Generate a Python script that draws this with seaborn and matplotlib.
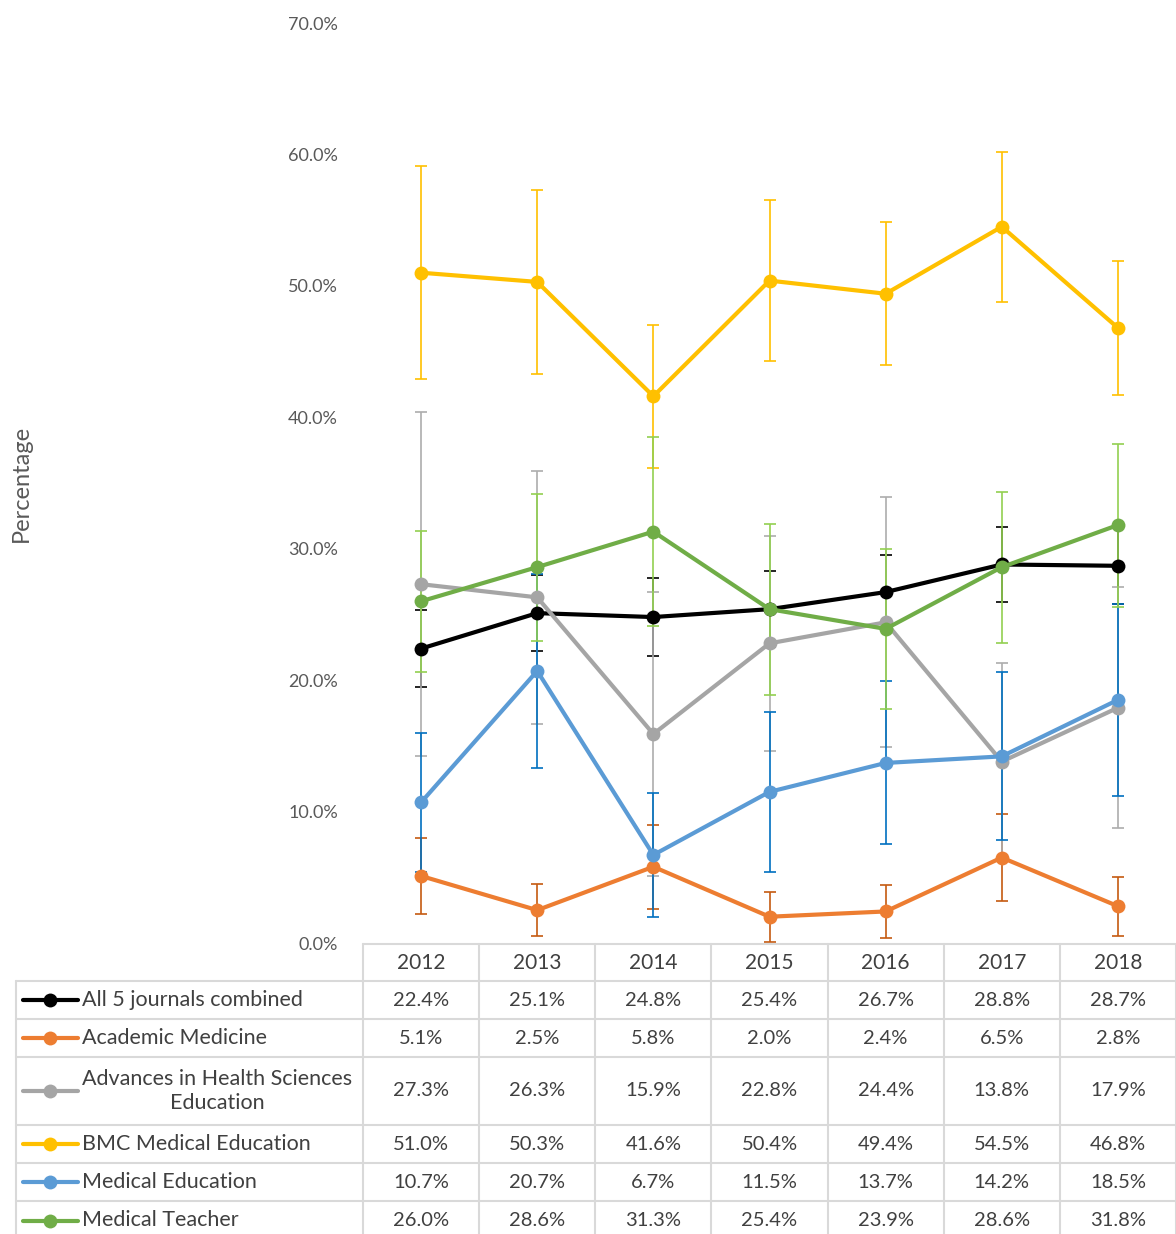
import numpy as np
import pandas as pd
import seaborn as sns
import matplotlib.pyplot as plt
from matplotlib.lines import Line2D
from matplotlib.transforms import blended_transform_factory

# Données (en %)
years = ['2012', '2013', '2014', '2015', '2016', '2017', '2018']
journals = ['All 5 journals combined', 'Academic Medicine',
            'Advances in Health Sciences Education', 'BMC Medical Education',
            'Medical Education', 'Medical Teacher']

all5 = [22.4, 25.1, 24.8, 25.4, 26.7, 28.8, 28.7]
acad_med = [5.1, 2.5, 5.8, 2.0, 2.4, 6.5, 2.8]
ahse = [27.3, 26.3, 15.9, 22.8, 24.4, 13.8, 17.9]
bmc = [51.0, 50.3, 41.6, 50.4, 49.4, 54.5, 46.8]
med_ed = [10.7, 20.7, 6.7, 11.5, 13.7, 14.2, 18.5]
med_teacher = [26.0, 28.6, 31.3, 25.4, 23.9, 28.6, 31.8]

# demi-largeur des barres d'erreur (estimées)
all5_err = [2.9, 2.9, 2.95, 2.9, 2.8, 2.85, 2.9]
acad_med_err = [2.9, 2.0, 3.2, 1.9, 2.05, 3.3, 2.25]
ahse_err = [13.1, 9.6, 10.8, 8.2, 9.5, 7.5, 9.15]
bmc_err = [8.1, 7.0, 5.45, 6.1, 5.45, 5.7, 5.1]
med_ed_err = [5.3, 7.4, 4.75, 6.1, 6.2, 6.4, 7.3]
med_teacher_err = [5.35, 5.6, 7.2, 6.5, 6.1, 5.75, 6.2]

values = [all5, acad_med, ahse, bmc, med_ed, med_teacher]
errors = [all5_err, acad_med_err, ahse_err, bmc_err, med_ed_err, med_teacher_err]

line_colors = ['#000000', '#ED7D31', '#A5A5A5', '#FFC000', '#5B9BD5', '#70AD47']
err_colors = ['#000000', '#C55A11', '#ADADAD', '#FFC000', '#0070C0', '#92D050']

rows = []
for j, name in enumerate(journals):
    for i, y in enumerate(years):
        rows.append({'pos': i, 'year': y, 'journal': name, 'value': values[j][i]})
df = pd.DataFrame(rows)

sns.set_style('white')
plt.rcParams['font.family'] = ['Lato', 'DejaVu Sans']

W, H = 1176, 1234
fig = plt.figure(figsize=(W / 100, H / 100), dpi=100)
ax = fig.add_axes([363 / W, 1 - 943 / H, (1176 - 363) / W, (943 - 23) / H])

# barres d'erreur
for j in range(len(journals)):
    ax.errorbar(range(len(years)), values[j], yerr=errors[j], fmt='none',
                ecolor=err_colors[j], elinewidth=1.2, capsize=4, capthick=1.2, zorder=1)

sns.lineplot(data=df, x='pos', y='value', hue='journal', hue_order=journals,
             palette=line_colors, marker='o', markersize=10, markeredgewidth=0,
             linewidth=3, legend=False, ax=ax, zorder=2)

ax.set_xlim(-0.5, len(years) - 0.5)
ax.set_ylim(0, 70)
ax.set_yticks(np.arange(0, 71, 10))
ax.set_yticklabels([f'{t:.1f}%' for t in np.arange(0, 71, 10)])
ax.tick_params(axis='y', length=0, pad=18, labelsize=13, labelcolor='#595959')
ax.set_xticks([])
ax.set_xlabel('')
ax.set_ylabel('Percentage', fontsize=17, color='#595959')
ax.yaxis.set_label_coords((32 - 363) / (1176 - 363), 0.5)
for s in ax.spines.values():
    s.set_visible(False)

# Tableau de données sous le graphique
grid = '#D9D9D9'
txt = '#404040'
fy = lambda y: 1 - y / H
fx = lambda x: x / W
tr = blended_transform_factory(ax.transData, fig.transFigure)
trf = fig.transFigure

row_lines = [944, 981, 1019, 1057, 1125, 1163, 1201, 1240]
n = len(years)

# lignes horizontales
fig.add_artist(Line2D([-0.5, n - 0.5], [fy(944)] * 2, transform=tr, color=grid, lw=1.5, clip_on=False))
for y in row_lines[1:]:
    fig.add_artist(Line2D([fx(16), fx(1176)], [fy(y)] * 2, transform=trf, color=grid, lw=1.5))
# lignes verticales
for i in range(n + 1):
    fig.add_artist(Line2D([i - 0.5] * 2, [fy(944), fy(1240)], transform=tr, color=grid, lw=1.5, clip_on=False))
fig.add_artist(Line2D([fx(16)] * 2, [fy(981), fy(1240)], transform=trf, color=grid, lw=1.5))

# en-tête
for i, y in enumerate(years):
    fig.text(i, fy(963), y, transform=tr, ha='center', va='center', fontsize=15, color=txt)

for j, name in enumerate(journals):
    yc = (row_lines[j + 1] + row_lines[j + 2]) / 2
    fig.add_artist(Line2D([fx(23), fx(78)], [fy(yc)] * 2, transform=trf, color=line_colors[j], lw=3))
    fig.add_artist(Line2D([fx(50)], [fy(yc)], transform=trf, color=line_colors[j], marker='o',
                          markersize=10, markeredgewidth=0))
    if name == 'Advances in Health Sciences Education':
        fig.text(fx(82), fy(yc), 'Advances in Health Sciences\nEducation', transform=trf,
                 ha='left', va='center', multialignment='center', fontsize=15.5,
                 color=txt, linespacing=1.3)
    else:
        fig.text(fx(82), fy(yc), name, transform=trf, ha='left', va='center',
                 fontsize=15.5, color=txt)
    for i in range(n):
        fig.text(i, fy(yc), f'{values[j][i]:.1f}%', transform=tr, ha='center', va='center',
                 fontsize=14.5, color=txt)

fig.savefig('out.png', dpi=100)
